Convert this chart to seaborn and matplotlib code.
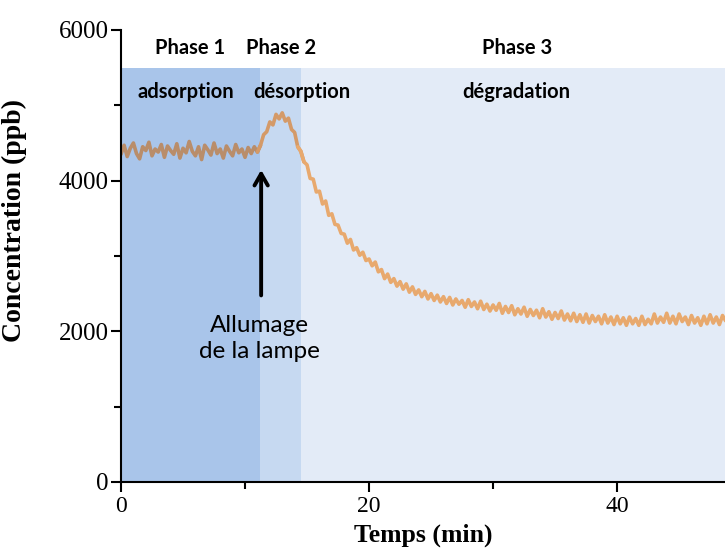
import numpy as np
import pandas as pd
import matplotlib
matplotlib.use("Agg")
import matplotlib.pyplot as plt
import seaborn as sns
from matplotlib.ticker import MultipleLocator

# concentration, one value every 0.25 min
conc_phase1 = [4350, 4470, 4320, 4430, 4500, 4360, 4290, 4450, 4400, 4510,
               4330, 4420, 4380, 4480, 4310, 4460, 4400, 4350, 4490, 4300,
               4430, 4370, 4520, 4390, 4330, 4450, 4280, 4470, 4410, 4340,
               4500, 4360, 4420, 4300, 4460, 4390, 4330, 4480, 4370, 4420,
               4310, 4440, 4360, 4450, 4380]
conc_phase2 = [4470, 4610, 4650, 4780, 4740, 4880, 4820, 4900, 4790, 4830,
               4680, 4640, 4450, 4390]
conc_phase3 = [4250, 4210, 4030, 4020, 3850, 3860, 3690, 3730, 3540, 3560,
               3420, 3410, 3300, 3290, 3170, 3220, 3080, 3110, 3010, 3050,
               2940, 2960, 2870, 2920, 2790, 2820, 2700, 2760, 2650, 2700,
               2600, 2660, 2560, 2630, 2520, 2590, 2490, 2550, 2460, 2530,
               2430, 2500, 2410, 2480, 2390, 2460, 2370, 2450, 2350, 2430,
               2360, 2410, 2320, 2420, 2330, 2390, 2300, 2400, 2290, 2360,
               2270, 2350, 2280, 2370, 2240, 2330, 2250, 2340, 2220, 2300,
               2230, 2320, 2200, 2290, 2210, 2280, 2180, 2300, 2190, 2260,
               2160, 2250, 2170, 2270, 2150, 2230, 2140, 2240, 2130, 2220,
               2120, 2230, 2110, 2210, 2130, 2200, 2100, 2220, 2110, 2190,
               2090, 2200, 2100, 2180, 2080, 2190, 2100, 2170, 2080, 2200,
               2090, 2160, 2100, 2230, 2110, 2190, 2120, 2240, 2110, 2200,
               2100, 2230, 2130, 2190, 2090, 2210, 2110, 2180, 2080, 2200,
               2100, 2220, 2110, 2190, 2090, 2210, 2140]
step = 0.25

phase_bounds = [0, 11.2, 14.5, 48.7]
phase_names = ["Phase 1", "Phase 2", "Phase 3"]
phase_desc = ["adsorption", "désorption", "dégradation"]
shade_colors = ["#a9c5ea", "#c6d9f1", "#e3ebf7"]
line_colors = ["#b98d6a", "#d49a68", "#e8a96e"]
shade_top = 5500

conc = conc_phase1 + conc_phase2 + conc_phase3
df = pd.DataFrame({"temps": np.arange(len(conc)) * step, "conc": conc})

sns.set_theme(style="ticks")
plt.rcParams["font.family"] = ["Liberation Serif", "DejaVu Serif"]
plt.rcParams["text.color"] = "black"
plt.rcParams["axes.labelcolor"] = "black"

fig = plt.figure(figsize=(7.25, 5.51), dpi=100)
ax = fig.add_axes([121 / 725, 69 / 551, 604 / 725, 452 / 551])

for i in range(3):
    ax.fill_between([phase_bounds[i], phase_bounds[i + 1]], 0, shade_top,
                    color=shade_colors[i], lw=0, zorder=0)
    # segment of the curve in this phase (one point of overlap so it joins)
    seg = df[(df.temps >= phase_bounds[i] - step) & (df.temps <= phase_bounds[i + 1] + step)]
    sns.lineplot(data=seg, x="temps", y="conc", ax=ax, color=line_colors[i],
                 lw=2.6, estimator=None, zorder=2)

label_x = [5.6, 12.9, 31.9]
desc_x = [5.2, 14.6, 31.9]
sans = ["Lato", "DejaVu Sans"]
for i in range(3):
    ax.text(label_x[i], 5760, phase_names[i], ha="center", va="center",
            family=sans, weight="bold", fontsize=14.5)
    ax.text(desc_x[i], 5180, phase_desc[i], ha="center", va="center",
            family=sans, weight="bold", fontsize=14.5)

ax.annotate("", xy=(11.3, 4180), xytext=(11.3, 2440),
            arrowprops=dict(arrowstyle="->,head_length=0.7,head_width=0.4",
                            lw=2.8, color="black"), zorder=3)
ax.text(11.2, 1900, "Allumage\nde la lampe", ha="center", va="center",
        family=sans, fontsize=17.5, linespacing=1.3)

ax.set_xlim(0, 48.7)
ax.set_ylim(0, 6000)
ax.xaxis.set_major_locator(MultipleLocator(20))
ax.xaxis.set_minor_locator(MultipleLocator(10))
ax.yaxis.set_major_locator(MultipleLocator(2000))
ax.yaxis.set_minor_locator(MultipleLocator(1000))
ax.tick_params(which="major", length=7, width=1.5, direction="out",
               colors="black", labelcolor="black")
ax.tick_params(which="minor", length=5, width=1.5, direction="out", colors="black")
ax.tick_params(axis="y", labelsize=18, pad=2)
ax.tick_params(axis="x", labelsize=17, pad=3)

ax.set_xlabel("Temps (min)", fontsize=18.5, weight="bold", labelpad=5)
ax.set_ylabel("Concentration (ppb)", fontsize=20, weight="bold")
ax.yaxis.set_label_coords(-0.155, 0.578)

sns.despine(ax=ax)
for s in ["left", "bottom"]:
    ax.spines[s].set_linewidth(1.5)
    ax.spines[s].set_color("black")
    ax.spines[s].set_zorder(4)

fig.savefig("out.png", dpi=100)
